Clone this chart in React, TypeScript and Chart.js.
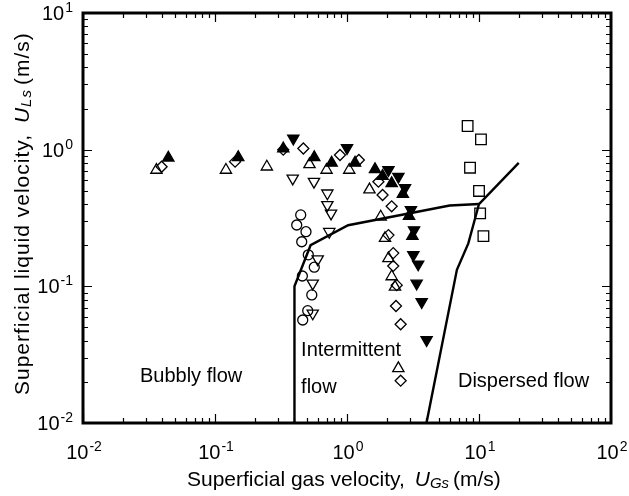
import React, { useEffect, useRef } from 'react';
import { Chart, registerables } from 'chart.js';

Chart.register(...registerables);

// ---- data (superficial gas velocity x, superficial liquid velocity y), m/s ----
const openUpTriangles = [
  { x: 0.036, y: 0.71 }, { x: 0.121, y: 0.71 }, { x: 0.247, y: 0.75 }, { x: 0.52, y: 0.78 },
  { x: 0.70, y: 0.71 }, { x: 1.04, y: 0.71 }, { x: 1.48, y: 0.51 }, { x: 1.8, y: 0.323 },
  { x: 1.94, y: 0.225 }, { x: 2.06, y: 0.16 }, { x: 2.18, y: 0.118 }, { x: 2.31, y: 0.099 },
  { x: 2.45, y: 0.0251 },
];
const openDiamonds = [
  { x: 0.0394, y: 0.75 }, { x: 0.142, y: 0.817 }, { x: 0.329, y: 1.0 }, { x: 0.467, y: 1.02 },
  { x: 0.885, y: 0.914 }, { x: 1.23, y: 0.84 }, { x: 1.73, y: 0.583 }, { x: 1.86, y: 0.466 },
  { x: 2.18, y: 0.385 }, { x: 2.06, y: 0.237 }, { x: 2.24, y: 0.175 }, { x: 2.24, y: 0.141 },
  { x: 2.38, y: 0.102 }, { x: 2.35, y: 0.0718 }, { x: 2.55, y: 0.0528 }, { x: 2.55, y: 0.0204 },
];
const filledUpTriangles = [
  { x: 0.0443, y: 0.873 }, { x: 0.15, y: 0.88 }, { x: 0.329, y: 1.02 }, { x: 0.565, y: 0.88 },
  { x: 0.765, y: 0.80 }, { x: 1.15, y: 0.80 }, { x: 1.63, y: 0.718 }, { x: 1.86, y: 0.641 },
  { x: 2.18, y: 0.567 }, { x: 2.65, y: 0.474 }, { x: 2.95, y: 0.327 }, { x: 3.13, y: 0.233 },
];
const filledDownTriangles = [
  { x: 0.392, y: 1.21 }, { x: 1.0, y: 1.03 }, { x: 2.06, y: 0.71 }, { x: 2.45, y: 0.634 },
  { x: 2.75, y: 0.525 }, { x: 3.05, y: 0.362 }, { x: 3.22, y: 0.258 }, { x: 3.18, y: 0.17 },
  { x: 3.46, y: 0.145 }, { x: 3.37, y: 0.105 }, { x: 3.68, y: 0.077 }, { x: 4.01, y: 0.0405 },
];
const openDownTriangles = [
  { x: 0.388, y: 0.617 }, { x: 0.562, y: 0.583 }, { x: 0.71, y: 0.48 }, { x: 0.71, y: 0.394 },
  { x: 0.757, y: 0.342 }, { x: 0.734, y: 0.251 }, { x: 0.6, y: 0.158 }, { x: 0.55, y: 0.105 },
  { x: 0.55, y: 0.0635 },
];
const openCircles = [
  { x: 0.446, y: 0.333 }, { x: 0.416, y: 0.281 }, { x: 0.489, y: 0.251 }, { x: 0.454, y: 0.212 },
  { x: 0.509, y: 0.17 }, { x: 0.565, y: 0.138 }, { x: 0.459, y: 0.119 }, { x: 0.541, y: 0.0865 },
  { x: 0.504, y: 0.0664 }, { x: 0.462, y: 0.0567 },
];
const openSquares = [
  { x: 8.2, y: 1.49 }, { x: 10.35, y: 1.19 }, { x: 8.55, y: 0.738 }, { x: 10.0, y: 0.499 },
  { x: 10.2, y: 0.342 }, { x: 10.8, y: 0.233 },
];
// flow-regime transition boundaries
const intermittentBoundary = [
  { x: 0.4, y: 0.01 }, { x: 0.4, y: 0.1 }, { x: 0.53, y: 0.2 }, { x: 1.02, y: 0.28 },
  { x: 6, y: 0.39 }, { x: 10, y: 0.4 },
];
const dispersedBoundary = [
  { x: 4.0, y: 0.01 }, { x: 6.8, y: 0.132 }, { x: 8.3, y: 0.206 }, { x: 10, y: 0.4 }, { x: 20, y: 0.8 },
];
// axis ticks (decade exponents)
const xTickExponents = [-2, -1, 0, 1, 2];
const yTickExponents = [-2, -1, 0, 1];
// region labels (placed in data coordinates)
const regionLabels = [
  { text: 'Bubbly flow', x: 0.027, y: 0.02 },
  { text: 'Intermittent', x: 0.449, y: 0.031 },
  { text: 'flow', x: 0.449, y: 0.0166 },
  { text: 'Dispersed flow', x: 6.93, y: 0.0183 },
];
const xTitle = { pre: 'Superficial gas velocity, ', sym: 'U', sub: 'Gs', post: '(m/s)' };
const yTitle = { pre: 'Superficial liquid velocity, ', sym: 'U', sub: 'Ls', post: '(m/s)' };

const FONT = '"Liberation Sans", Arial, Helvetica, sans-serif';

function drawRichTitle(ctx: any, t: any, startX: number, baseY: number, size: number, spacing: number) {
  let x = startX;
  ctx.textAlign = 'left';
  ctx.textBaseline = 'alphabetic';
  ctx.letterSpacing = `${spacing}px`;
  ctx.font = `${size}px ${FONT}`;
  ctx.fillText(t.pre, x, baseY);
  x += ctx.measureText(t.pre).width + 4;
  ctx.font = `italic ${size}px ${FONT}`;
  ctx.fillText(t.sym, x, baseY);
  x += ctx.measureText(t.sym).width;
  ctx.font = `italic ${Math.round(size * 0.7)}px ${FONT}`;
  ctx.fillText(t.sub, x, baseY + 2);
  x += ctx.measureText(t.sub).width + 4;
  ctx.font = `${size}px ${FONT}`;
  ctx.fillText(t.post, x, baseY);
  ctx.letterSpacing = '0px';
}

function drawPower(ctx: CanvasRenderingContext2D, exp: number, x: number, baseY: number, align: 'center' | 'right') {
  ctx.textAlign = 'left';
  ctx.textBaseline = 'alphabetic';
  ctx.font = `20px ${FONT}`;
  const base = '10';
  const bw = ctx.measureText(base).width;
  ctx.font = `14px ${FONT}`;
  const sup = String(exp);
  const sw = ctx.measureText(sup).width;
  const total = bw + sw + 1;
  const left = align === 'center' ? x - total / 2 : x - total;
  ctx.font = `20px ${FONT}`;
  ctx.fillText(base, left, baseY);
  ctx.font = `14px ${FONT}`;
  ctx.fillText(sup, left + bw + 1, baseY - 8);
}

const framePlugin = {
  id: 'frameAndLabels',
  afterDatasetsDraw(chart: any) {
    const { ctx, chartArea: ca, scales } = chart;
    const xs = scales.x;
    const ys = scales.y;
    ctx.save();
    ctx.strokeStyle = '#000';
    ctx.fillStyle = '#000';
    ctx.lineWidth = 1.2;
    ctx.beginPath();
    // x ticks (top & bottom, inward)
    for (let d = -2; d < 2; d++) {
      for (let m = 1; m <= 9; m++) {
        const v = m * Math.pow(10, d);
        const px = Math.round(xs.getPixelForValue(v)) + 0.5;
        const len = m === 1 ? 9 : 5;
        ctx.moveTo(px, ca.bottom);
        ctx.lineTo(px, ca.bottom - len);
        ctx.moveTo(px, ca.top);
        ctx.lineTo(px, ca.top + len);
      }
    }
    // y ticks (left & right, inward)
    for (let d = -2; d < 1; d++) {
      for (let m = 1; m <= 9; m++) {
        const v = m * Math.pow(10, d);
        const py = Math.round(ys.getPixelForValue(v)) + 0.5;
        const len = m === 1 ? 9 : 5;
        ctx.moveTo(ca.left, py);
        ctx.lineTo(ca.left + len, py);
        ctx.moveTo(ca.right, py);
        ctx.lineTo(ca.right - len, py);
      }
    }
    ctx.stroke();
    // frame
    ctx.lineWidth = 3;
    ctx.strokeRect(ca.left, ca.top, ca.right - ca.left, ca.bottom - ca.top);

    // tick labels
    xTickExponents.forEach((e) => {
      const px = xs.getPixelForValue(Math.pow(10, e));
      drawPower(ctx, e, px + 1, 459, 'center');
    });
    yTickExponents.forEach((e) => {
      const py = ys.getPixelForValue(Math.pow(10, e));
      drawPower(ctx, e, 73, py + 7, 'right');
    });

    // region labels
    ctx.font = `20px ${FONT}`;
    ctx.textAlign = 'left';
    ctx.textBaseline = 'alphabetic';
    regionLabels.forEach((l) => {
      ctx.fillText(l.text, xs.getPixelForValue(l.x), ys.getPixelForValue(l.y));
    });

    // axis titles
    drawRichTitle(ctx, xTitle, 187, 486, 21, 0);
    ctx.save();
    ctx.translate(29, 395);
    ctx.rotate(-Math.PI / 2);
    drawRichTitle(ctx, yTitle, 0, 0, 21, 1);
    ctx.restore();

    ctx.restore();
  },
};

function markerSet(data: any[], style: string, radius: number, filled: boolean, rotation = 0) {
  return {
    type: 'scatter' as const,
    data,
    pointStyle: style,
    pointRadius: radius,
    pointRotation: rotation,
    pointBorderWidth: 1.3,
    borderColor: '#000',
    backgroundColor: filled ? '#000' : 'rgba(0,0,0,0)',
    pointBackgroundColor: filled ? '#000' : 'rgba(0,0,0,0)',
    pointBorderColor: '#000',
    showLine: false,
  };
}

function lineSet(data: any[]) {
  return {
    type: 'scatter' as const,
    data,
    showLine: true,
    borderColor: '#000',
    borderWidth: 2.4,
    pointRadius: 0,
    tension: 0,
    fill: false,
  };
}

export default function App() {
  const canvasRef = useRef<HTMLCanvasElement | null>(null);

  useEffect(() => {
    if (!canvasRef.current) return;
    const chart = new Chart(canvasRef.current, {
      type: 'scatter',
      data: {
        datasets: [
          markerSet(filledUpTriangles, 'triangle', 6.5, true),
          markerSet(filledDownTriangles, 'triangle', 6.5, true, 180),
          markerSet(openUpTriangles, 'triangle', 6.5, false),
          markerSet(openDownTriangles, 'triangle', 6.5, false, 180),
          markerSet(openDiamonds, 'rectRot', 5.5, false),
          markerSet(openCircles, 'circle', 5, false),
          markerSet(openSquares, 'rect', 7.5, false),
          lineSet(intermittentBoundary),
          lineSet(dispersedBoundary),
        ] as any,
      },
      options: {
        responsive: false,
        maintainAspectRatio: false,
        animation: false,
        devicePixelRatio: 1,
        events: [],
        layout: { padding: { left: 83, top: 13, right: 18, bottom: 73 } },
        plugins: { legend: { display: false }, tooltip: { enabled: false }, title: { display: false } },
        scales: {
          x: { type: 'logarithmic', min: 0.01, max: 100, display: false },
          y: { type: 'logarithmic', min: 0.01, max: 10, display: false },
        },
      },
      plugins: [framePlugin],
    });
    return () => chart.destroy();
  }, []);

  return (
    <div style={{ position: 'fixed', left: 0, top: 0, width: 629, height: 496, background: '#fff' }}>
      <canvas ref={canvasRef} width={629} height={496} style={{ width: 629, height: 496, display: 'block' }} />
    </div>
  );
}
